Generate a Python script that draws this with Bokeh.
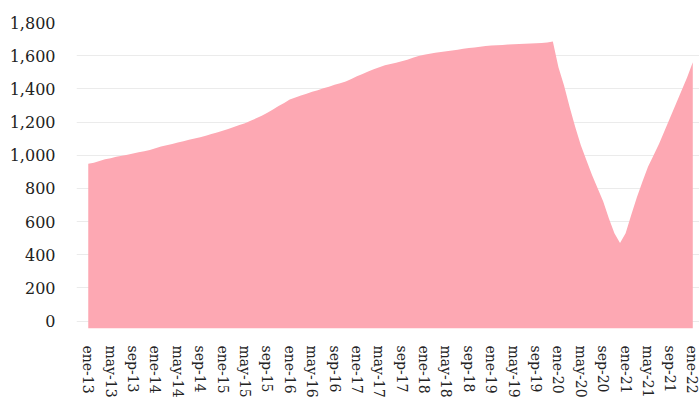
from bokeh.plotting import figure
from bokeh.models import FixedTicker, NumeralTickFormatter, Range1d
from bokeh.embed import file_html
from bokeh.resources import INLINE

# monthly values, ene-13 .. ene-22
values = [
    948, 955, 965, 975, 982, 990, 997, 1003, 1010, 1017, 1024, 1032,
    1042, 1052, 1060, 1068, 1076, 1084, 1093, 1101, 1108, 1117, 1127, 1137,
    1147, 1158, 1170, 1182, 1193, 1208, 1222, 1238, 1256, 1275, 1296, 1315,
    1335, 1348, 1360, 1371, 1382, 1392, 1403, 1413, 1424, 1433, 1445, 1460,
    1476, 1490, 1505, 1518, 1530, 1542, 1550, 1558, 1566, 1576, 1588, 1598,
    1606, 1612, 1617, 1622, 1627, 1631, 1636, 1641, 1646, 1650, 1654, 1658,
    1661, 1663, 1665, 1667, 1669, 1671, 1672, 1674, 1675, 1677, 1680, 1685,
    1530, 1420, 1290, 1170, 1060, 970, 880, 800, 720, 620, 530, 470,
    530, 640, 745, 840, 930, 1000, 1070, 1150, 1230, 1310, 1390, 1470,
    1560,
]
tick_labels = [
    "ene-13", "may-13", "sep-13", "ene-14", "may-14", "sep-14", "ene-15",
    "may-15", "sep-15", "ene-16", "may-16", "sep-16", "ene-17", "may-17",
    "sep-17", "ene-18", "may-18", "sep-18", "ene-19", "may-19", "sep-19",
    "ene-20", "may-20", "sep-20", "ene-21", "may-21", "sep-21", "ene-22",
]
label_step = 4
y_ticks = [0, 200, 400, 600, 800, 1000, 1200, 1400, 1600, 1800]

x = list(range(len(values)))
y_min = -45
baseline = [y_min] * len(values)

p = figure(width=699, height=401, output_backend="svg", toolbar_location=None,
           x_range=Range1d(-2.1, 109.2), y_range=Range1d(y_min, 1800),
           min_border_top=22, min_border_right=0, min_border_left=76,
           min_border_bottom=73)
p.outline_line_color = None
p.background_fill_color = "white"
p.border_fill_color = "white"

p.varea(x=x, y1=baseline, y2=values, fill_color="#FDA8B3")

# y axis
p.yaxis.ticker = FixedTicker(ticks=y_ticks)
p.yaxis.formatter = NumeralTickFormatter(format="0,0")
p.yaxis.major_label_text_font_size = "16px"
p.yaxis.major_label_standoff = 21

# x axis: vertical labels every 4 months
p.xaxis.ticker = FixedTicker(ticks=[i * label_step for i in range(len(tick_labels))])
p.xaxis.major_label_overrides = {i * label_step: t for i, t in enumerate(tick_labels)}
p.xaxis.major_label_orientation = "vertical"
p.xaxis.major_label_text_font_size = "14px"
p.xaxis.major_label_standoff = 17

for ax in (p.xaxis, p.yaxis):
    ax.axis_line_color = None
    ax.major_tick_line_color = None
    ax.minor_tick_line_color = None
    ax.major_tick_out = 0
    ax.minor_tick_out = 0
    ax.major_tick_in = 0
    ax.minor_tick_in = 0
    ax.major_label_text_font = "DejaVu Serif"
    ax.major_label_text_color = "#222222"

p.xgrid.grid_line_color = None
p.ygrid.grid_line_color = "#ebebeb"
p.ygrid.grid_line_width = 1

open("out.html", "w").write(file_html(p, INLINE))
